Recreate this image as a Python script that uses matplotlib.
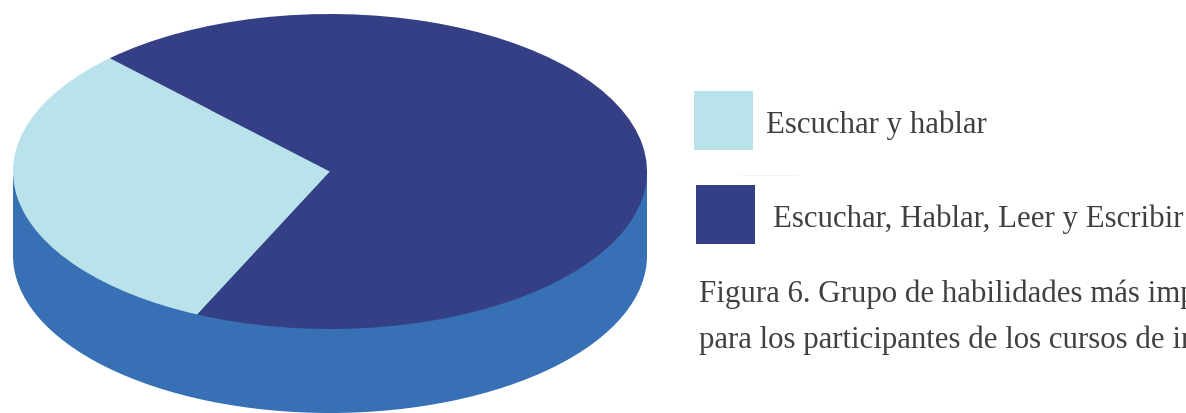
import matplotlib
matplotlib.use("Agg")
import matplotlib.pyplot as plt
from matplotlib.patches import Rectangle

categories = ["Escuchar y hablar", "Escuchar, Hablar, Leer y Escribir"]
values = [30.9, 69.1]
colors = ["#B9E2EB", "#353F85"]
side_color = "#3770B4"
caption = ["Figura 6. Grupo de habilidades más importantes",
           "para los participantes de los cursos de inglés"]

W, H = 1186, 414
cx, cy, rx, ry, depth = 330, 172.5, 317, 157.5, 84
serif = ["Liberation Serif", "DejaVu Serif"]

fig = plt.figure(figsize=(W / 100, H / 100), dpi=100, facecolor="white")
ax = fig.add_axes([0, 0, 1, 1])

d = depth / ry
ax.pie([1], colors=[side_color], radius=1, center=(0, -d), startangle=0)
ax.fill_between([-1, 1], [-d, -d], [0, 0], color=side_color, lw=0)
ax.pie(values, colors=colors, radius=1, center=(0, 0), startangle=134)
ax.set_aspect("auto")
ax.set_xlim(-cx / rx, (W - cx) / rx)
ax.set_ylim(-(H - cy) / ry, cy / ry)
ax.axis("off")

def fx(px): return px / W
def fy(py): return 1 - py / H

fig.add_artist(Rectangle((fx(694), fy(150.5)), 59 / W, 59 / H, transform=fig.transFigure, color=colors[0], lw=0))
fig.add_artist(Rectangle((fx(696), fy(244.5)), 59 / W, 59 / H, transform=fig.transFigure, color=colors[1], lw=0))
fig.add_artist(Rectangle((fx(740), fy(177)), 59 / W, 1 / H, transform=fig.transFigure, color="#EEF8FA", lw=0))

tc = "#404040"
fs = 22.2
fig.text(fx(766), fy(125), categories[0], family=serif, fontsize=fs, color=tc, va="center", ha="left")
fig.text(fx(773), fy(219), categories[1], family=serif, fontsize=fs, color=tc, va="center", ha="left")
fig.text(fx(699), fy(294), caption[0], family=serif, fontsize=fs, color=tc, va="center", ha="left")
fig.text(fx(699), fy(340.5), caption[1], family=serif, fontsize=fs, color=tc, va="center", ha="left")

fig.savefig("out.png", dpi=100, facecolor="white")
